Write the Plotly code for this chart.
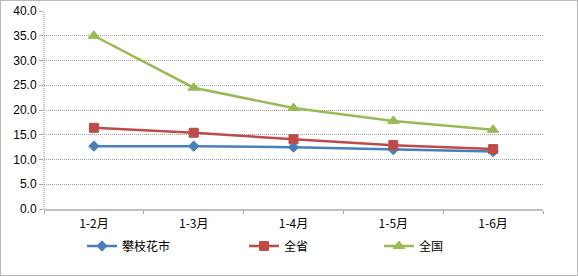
import plotly.graph_objects as go

categories = ["1-2月", "1-3月", "1-4月", "1-5月", "1-6月"]
panzhihua = [12.7, 12.7, 12.5, 12.0, 11.6]
quansheng = [16.4, 15.4, 14.1, 12.9, 12.1]
quanguo = [35.0, 24.5, 20.4, 17.8, 16.0]
y_ticks = [0, 5, 10, 15, 20, 25, 30, 35, 40]

W, H = 578, 276
L, R, T, B = 44, 35, 11, 67
pw = W - L - R
ph = H - T - B

FONT = "Noto Sans CJK SC"

fig = go.Figure()
series = [
    ("攀枝花市", panzhihua, "#4a7ebb", "diamond", 8, "legend"),
    ("全省", quansheng, "#be4b48", "square", 9, "legend2"),
    ("全国", quanguo, "#98b954", "triangle-up", 10, "legend3"),
]
for name, vals, color, sym, size, lg in series:
    fig.add_trace(go.Scatter(
        x=categories, y=vals, name=name, mode="lines+markers",
        line=dict(color=color, width=2.5),
        marker=dict(symbol=sym, size=size, color=color,
                    line=dict(color=color, width=1)),
        legend=lg,
    ))

def px2x(p):
    return (p - L) / pw

def px2y(p):
    return (H - B - p) / ph

legend_common = dict(
    orientation="h", yanchor="middle", xanchor="left",
    font=dict(family=FONT, size=12, color="#000000"),
    bgcolor="rgba(0,0,0,0)", itemwidth=30, tracegroupgap=0,
)
fig.update_layout(
    width=W, height=H,
    margin=dict(l=L, r=R, t=T, b=B, autoexpand=False),
    paper_bgcolor="white", plot_bgcolor="white",
    font=dict(family=FONT, size=12, color="#000000"),
    xaxis=dict(
        type="category", showgrid=False,
        showline=True, linecolor="#c0c0c0", linewidth=2,
        ticks="outside", ticklen=3, tickcolor="#a6a6a6", tickson="boundaries",
        tickfont=dict(family=FONT, size=12, color="#000000"),
        ticklabelstandoff=3,
        range=[-0.5, 4.5], automargin=False,
    ),
    yaxis=dict(
        range=[0, 40], tickvals=y_ticks,
        ticktext=[f"{v:.1f}" for v in y_ticks],
        showgrid=True, gridcolor="#a0a0a0", griddash="1px,1px", gridwidth=1,
        showline=False,
        ticks="outside", ticklen=4, tickcolor="#a6a6a6",
        tickfont=dict(family="Liberation Sans", size=12, color="#000000"),
        zeroline=False, automargin=False,
    ),
    legend=dict(x=px2x(82), y=px2y(246), **legend_common),
    legend2=dict(x=px2x(244), y=px2y(246), **legend_common),
    legend3=dict(x=px2x(379), y=px2y(246), **legend_common),
    showlegend=True,
)

# dotted y-axis line
fig.add_shape(
    type="line", xref="paper", yref="paper",
    x0=0, x1=0, y0=0, y1=1,
    line=dict(color="#909090", width=1, dash="1px,1px"), layer="below",
)

# outer dotted border
fig.add_shape(
    type="rect", xref="paper", yref="paper",
    x0=px2x(0.5), x1=px2x(W - 0.5), y0=px2y(H - 0.5), y1=px2y(0.5),
    line=dict(color="#707070", width=1, dash="1px,1px"), layer="above",
)

fig.write_html("out.html")
